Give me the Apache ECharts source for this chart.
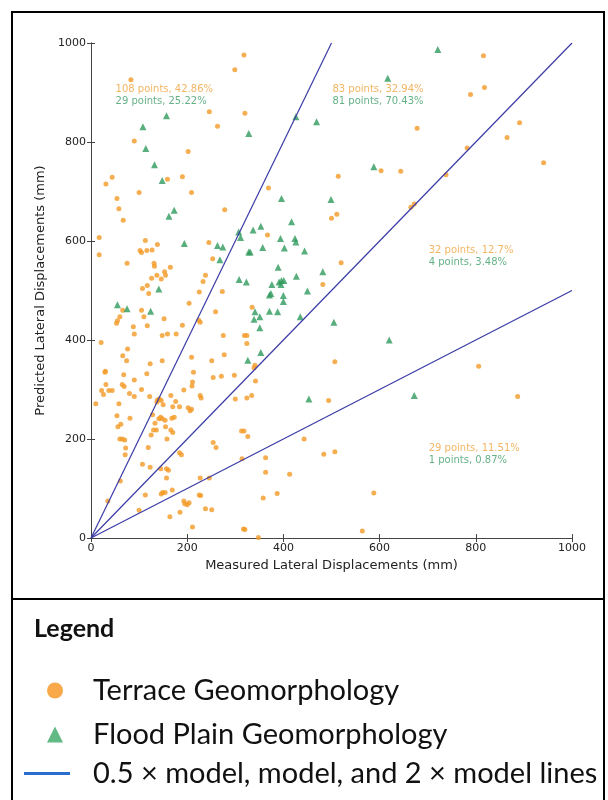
<!DOCTYPE html>
<html><head><meta charset="utf-8">
<script src="https://cdn.jsdelivr.net/npm/echarts@6/dist/echarts.min.js"></script>
<style>html,body{margin:0;padding:0;background:#fff}#c{width:608px;height:800px}</style>
</head><body><div id="c"></div><script>
// ---- data (mm) ----
const terrace = [
[83,926],[318,976],[299,946],[246,861],[320,858],[263,832],[90,802],[202,781],[44,729],[31,715],[190,730],[159,725],[100,698],[209,698],[54,686],
[514,731],[603,742],[644,741],[369,707],
[816,974],[818,910],[789,896],[678,828],[891,839],[865,809],[782,788],[941,758],[738,734],[672,675],[665,668],
[58,665],[67,642],[278,663],[17,607],[17,572],[113,601],[102,581],[105,577],[116,581],[127,582],[138,593],[75,555],[131,555],[132,549],[165,547],[153,538],[155,531],[137,531],[146,523],[126,525],[117,510],[107,504],[120,494],[245,597],[253,564],[238,531],[233,518],[225,497],[273,498],[204,474],[259,457],[66,460],[60,447],[55,439],[53,434],[105,460],[110,447],[152,443],[88,427],[117,429],[90,412],[148,409],[159,412],[177,412],[190,430],[224,440],[227,436],[21,395],[76,382],[66,368],[74,358],[123,352],[148,358],[209,365],[251,358],[277,370],[275,409],[319,409],[324,409],[324,393],[30,337],
[500,646],[511,654],[367,612],[520,556],[482,512],[335,466],[341,349],[339,344],[507,356],
[806,347],
[29,335],[68,330],[116,332],[90,319],[31,310],[22,298],[26,290],[37,298],[44,298],[65,310],[69,306],[80,292],[90,286],[105,300],[122,286],[138,279],[142,281],[146,278],[137,275],[150,269],[166,288],[176,276],[170,265],[193,299],[213,335],[211,315],[210,307],[227,288],[229,283],[254,324],[271,327],[298,329],[300,281],[184,265],[202,263],[206,257],[209,260],[10,271],[58,271],[54,247],[81,242],[56,225],[62,230],[128,249],[141,241],[145,244],[148,241],[154,238],[168,242],[173,244],[133,232],[155,225],[130,218],[136,218],[125,208],[166,218],[170,213],[158,200],[60,200],[65,200],[70,198],[72,182],[71,168],[119,183],[184,172],[188,168],[107,149],[123,143],[145,140],[157,140],[161,137],[157,121],[61,115],[169,97],[149,92],[146,89],[154,92],[113,87],[35,75],[100,56],[164,43],[193,75],[195,69],[200,67],[204,71],[185,52],[225,87],[228,86],[227,121],[211,22],[238,59],[251,57],[246,121],[254,193],[260,183],[313,216],[318,216],[326,205],[314,160],[317,18],
[342,317],[324,283],[334,288],[494,278],[443,200],[363,162],[484,169],[507,174],[363,133],[413,129],[358,81],[387,90],[588,91],[320,17],[348,1],[564,14],[887,286]
];
const floodPlain = [
[157,853],[108,831],[114,787],[132,754],[148,722],[328,817],
[617,929],[426,851],[469,841],[588,750],[396,686],[499,684],
[721,987],
[162,650],[173,662],[194,595],[263,591],[274,588],[307,618],[311,607],[268,562],[328,578],[308,522],[323,517],[141,503],[55,471],[75,463],[124,458],[326,359],
[417,639],[353,630],[337,622],[394,605],[424,605],[426,598],[357,587],[402,586],[444,580],[331,578],[389,547],[427,529],[482,538],[376,512],[391,517],[396,520],[401,520],[395,512],[450,499],[374,494],[371,491],[400,490],[400,478],[341,457],[371,458],[388,457],[339,442],[351,447],[435,447],[351,425],[505,436],[620,400],[353,375],
[453,281],[672,288]
];
const modelFactors = [0.5, 1, 2];
const axisMin = 0, axisMax = 1000, axisStep = 200;
const annotX = [51, 502, 702, 702];
const annotYTerrace = [906, 906, 582, 182];
const annotYFlood = [883, 883, 556, 157];
const annotTerrace = ['108 points, 42.86%', '83 points, 32.94%', '32 points, 12.7%', '29 points, 11.51%'];
const annotFlood = ['29 points, 25.22%', '81 points, 70.43%', '4 points, 3.48%', '1 points, 0.87%'];
const NAME_T = 'Terrace Geomorphology';
const NAME_F = 'Flood Plain Geomorphology';
const NAME_L = '0.5 \u00d7 model, model, and 2 \u00d7 model lines';

// ---- styles ----
const C_OR = '#f39a26', C_GR = '#2f9a5c', C_LINE = '#3b3ba6';
const AX = '#444';
const tickFont = {fontFamily:'DejaVu Sans', fontSize:11, color:'#222', formatter:v=>String(v)};

const lineSeries = modelFactors.map(f => ({
  type:'line', name:NAME_L, symbol:'none', silent:true, z:5,
  lineStyle:{color:C_LINE, width:1.2},
  data:[[0,0],[Math.min(axisMax, axisMax/f), Math.min(axisMax, axisMax*f)]]
}));
function annotSeries(ys, texts, color){
  return {type:'scatter', symbolSize:0, silent:true, z:6,
    data: annotX.map((x,i)=>[x, ys[i], texts[i]]),
    label:{show:true, position:'right', distance:0, formatter:p=>p.value[2],
      color, fontFamily:'DejaVu Sans', fontSize:10}};
}
const baseAxis = {min:axisMin, max:axisMax, interval:axisStep, splitLine:{show:false},
  axisLine:{show:true, lineStyle:{color:AX, width:1}},
  axisTick:{show:true, inside:true, length:4, lineStyle:{color:AX}}};
const legendText = {fontFamily:'Lato', fontSize:29, color:'#111'};

const chart = echarts.init(document.getElementById('c'), null, {renderer:'canvas'});
chart.setOption({
  animation:false,
  backgroundColor:'#fff',
  grid:{left:91, right:36, top:43, bottom:262, containLabel:false},
  xAxis:[
    Object.assign({}, baseAxis, {type:'value', position:'bottom',
      name:'Measured Lateral Displacements (mm)', nameLocation:'middle', nameGap:18,
      nameTextStyle:{fontFamily:'DejaVu Sans', fontSize:13, color:'#222'},
      axisLabel:Object.assign({margin:5}, tickFont)}),
    Object.assign({}, baseAxis, {type:'value', position:'top', axisLabel:{show:false}})
  ],
  yAxis:[
    Object.assign({}, baseAxis, {type:'value', position:'left',
      name:'Predicted Lateral Displacements (mm)', nameLocation:'middle', nameGap:22,
      nameTextStyle:{fontFamily:'DejaVu Sans', fontSize:13, color:'#222'},
      axisLabel:Object.assign({margin:5}, tickFont)}),
    Object.assign({}, baseAxis, {type:'value', position:'right', axisLabel:{show:false}})
  ],
  title:{text:'Legend', left:34, top:616, padding:0,
    textStyle:{fontFamily:'Lato', fontWeight:'bold', fontSize:25, color:'#111'}},
  legend:[
    {data:[{name:NAME_T, icon:'circle', itemStyle:{color:'#f7941d'}}], left:47, top:676, padding:0,
     itemWidth:16, itemHeight:16, selectedMode:false, textStyle:Object.assign({}, legendText, {padding:[0,0,0,25]})},
    {data:[{name:NAME_F, icon:'triangle', itemStyle:{color:'#3aa864'}}], left:47, top:720, padding:0,
     itemWidth:16, itemHeight:16, selectedMode:false, textStyle:Object.assign({}, legendText, {padding:[0,0,0,25]})},
    {data:[{name:NAME_L, icon:'rect', itemStyle:{color:'#2b6ccf'}}], left:24, top:759, padding:0,
     itemWidth:46, itemHeight:3, selectedMode:false, textStyle:Object.assign({}, legendText, {padding:[0,0,0,18]})}
  ],
  graphic:[
    {type:'rect', shape:{x:12, y:12, width:592, height:800}, style:{fill:'none', stroke:'#000', lineWidth:2}, silent:true},
    {type:'line', shape:{x1:12, y1:599, x2:604, y2:599}, style:{stroke:'#000', lineWidth:2}, silent:true}
  ],
  series:[
    {type:'scatter', name:NAME_T, symbol:'circle', symbolSize:5, itemStyle:{color:C_OR}, data:terrace, z:3},
    {type:'scatter', name:NAME_F, symbol:'triangle', symbolSize:7, itemStyle:{color:C_GR}, data:floodPlain, z:4},
    ...lineSeries,
    annotSeries(annotYTerrace, annotTerrace, '#f0a23c'),
    annotSeries(annotYFlood, annotFlood, '#3f9d68')
  ]
});
</script></body></html>
